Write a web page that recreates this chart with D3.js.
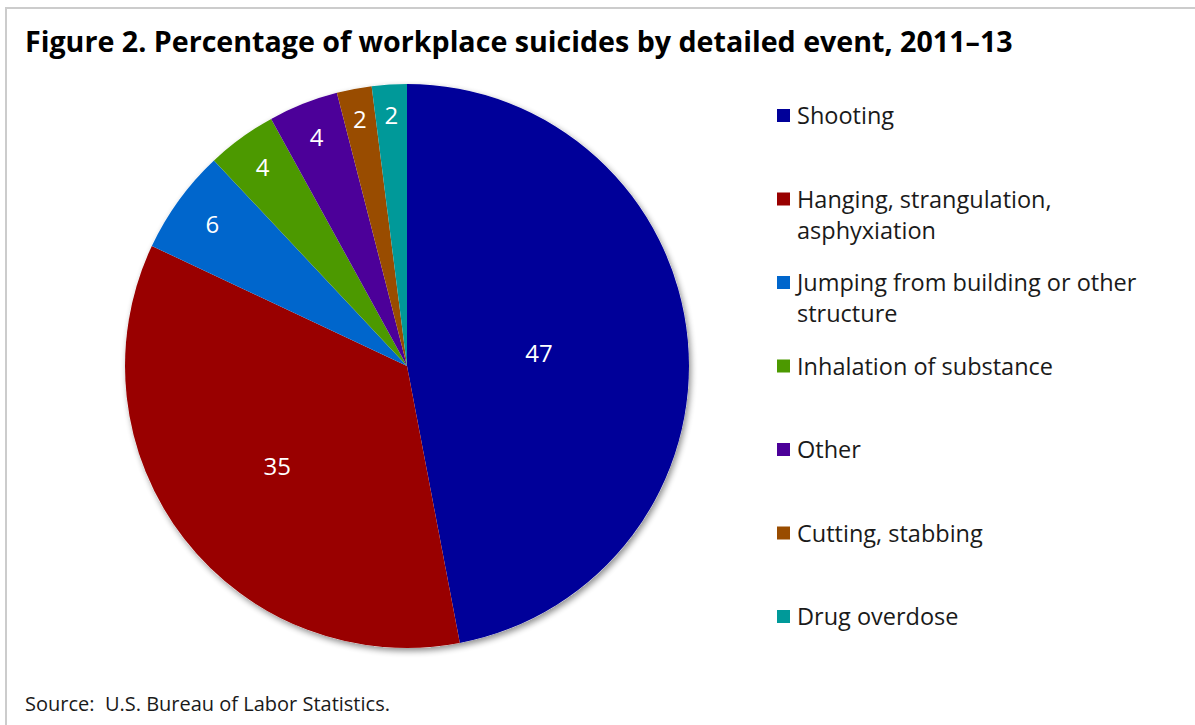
<!DOCTYPE html>
<html lang="en">
<head>
<meta charset="UTF-8">
<title>Figure 2</title>
<style>
  body { margin: 0; background: #fff; }
  text { font-family: "Open Sans", "Noto Sans", sans-serif; white-space: pre; }
</style>
</head>
<body>
<script src="https://d3js.org/d3.v7.min.js"></script>
<script>
// data
const categories = ['Shooting', 'Hanging, strangulation, asphyxiation', 'Jumping from building or other structure',
  'Inhalation of substance', 'Other', 'Cutting, stabbing', 'Drug overdose'];
const values = [47, 35, 6, 4, 4, 2, 2];
// legend text split into lines
const legendLines = [['Shooting'], ['Hanging, strangulation,', 'asphyxiation'], ['Jumping from building or other', 'structure'],
  ['Inhalation of substance'], ['Other'], ['Cutting, stabbing'], ['Drug overdose']];

const W = 1195, H = 725;
const palette = ['#000099', '#990000', '#0066cc', '#4c9900', '#4c0099', '#994c00', '#009999'];
const color = d3.scaleOrdinal().domain(categories).range(palette);

const svg = d3.select('body').append('svg')
  .attr('width', W)
  .attr('height', H);

// shrink/grow a text node's font so it spans the wanted width
function fit(sel, width) {
  const fs = +sel.attr('font-size');
  const w = sel.node().getComputedTextLength();
  sel.attr('font-size', fs * width / w);
}

// frame (top + left lines only visible)
svg.append('path')
  .attr('d', `M6,${H} L6,8 L${W},8`)
  .attr('fill', 'none')
  .attr('stroke', '#cccccc')
  .attr('stroke-width', 2);

const title = svg.append('text')
  .attr('x', 25)
  .attr('y', 52)
  .attr('font-size', 24)
  .attr('font-weight', 'bold')
  .attr('fill', '#000')
  .text('Figure 2. Percentage of workplace suicides by detailed event, 2011\u201313');
fit(title, 988);

const defs = svg.append('defs');
const f = defs.append('filter').attr('id', 'shadow')
  .attr('x', '-10%').attr('y', '-10%').attr('width', '120%').attr('height', '120%');
f.append('feGaussianBlur').attr('in', 'SourceAlpha').attr('stdDeviation', 3);
f.append('feOffset').attr('dx', 2).attr('dy', 3).attr('result', 'b');
f.append('feComponentTransfer').append('feFuncA').attr('type', 'linear').attr('slope', 0.45);
const fm = f.append('feMerge');
fm.append('feMergeNode');
fm.append('feMergeNode').attr('in', 'SourceGraphic');

const cx = 407, cy = 366, r = 282;
const pie = d3.pie().sort(null).value(d => d)(values);
const arc = d3.arc().innerRadius(0).outerRadius(r);

const g = svg.append('g').attr('transform', `translate(${cx},${cy})`);

g.append('circle').attr('r', r).attr('fill', '#fff').attr('filter', 'url(#shadow)');

g.selectAll('path.slice')
  .data(pie)
  .enter()
  .append('path')
  .attr('class', 'slice')
  .attr('d', arc)
  .attr('fill', (d, i) => color(categories[i]));

// bigger slices get their label nearer the centre
const labelR = d3.scaleLinear().domain([2, 47]).range([0.89, 0.47]);
g.selectAll('text.lbl')
  .data(pie)
  .enter()
  .append('text')
  .attr('class', 'lbl')
  .attr('transform', d => {
    const a = (d.startAngle + d.endAngle) / 2;
    const rr = labelR(d.value) * r;
    return `translate(${Math.sin(a) * rr},${-Math.cos(a) * rr})`;
  })
  .attr('text-anchor', 'middle')
  .attr('dy', '0.36em')
  .attr('font-size', 24)
  .attr('font-weight', 500)
  .attr('fill', '#fff')
  .text(d => d.value);

// legend
const ly = d3.scalePoint().domain(categories).range([116, 617]);
const leg = svg.selectAll('g.leg')
  .data(categories)
  .enter()
  .append('g')
  .attr('class', 'leg')
  .attr('transform', d => `translate(777,${ly(d)})`);

leg.append('rect')
  .attr('x', 0).attr('y', -7)
  .attr('width', 13).attr('height', 13)
  .attr('fill', d => color(d));

leg.append('text')
  .attr('x', 20)
  .attr('font-size', 23.5)
  .attr('fill', '#1a1a1a')
  .selectAll('tspan')
  .data((d, i) => legendLines[i])
  .enter()
  .append('tspan')
  .attr('x', 20)
  .attr('y', (d, j) => j * 31 + 8)
  .text(d => d);

const src = svg.append('text')
  .attr('x', 25)
  .attr('y', 711)
  .attr('font-size', 20)
  .attr('fill', '#1a1a1a')
  .text('Source:  U.S. Bureau of Labor Statistics.');
fit(src, 365);
</script>
</body>
</html>
